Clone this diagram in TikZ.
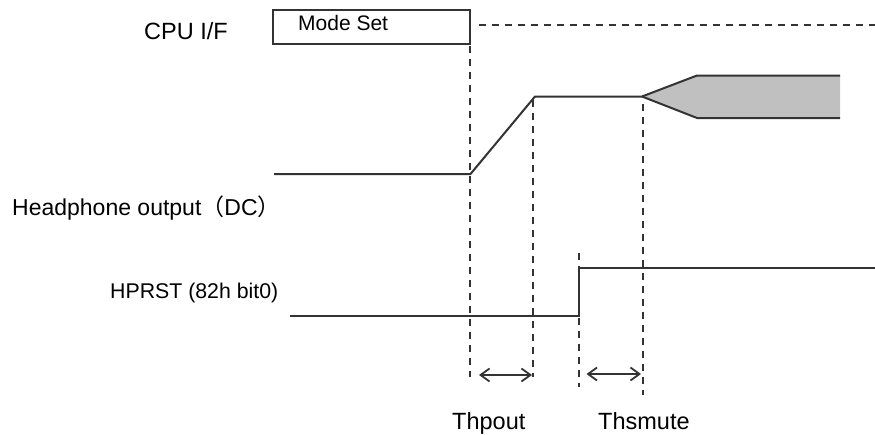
\documentclass[tikz,border=0pt]{standalone}
\usepackage{fontspec}
\setmainfont{Liberation Sans}
\newfontfamily\cjk{Noto Sans CJK SC}
\usetikzlibrary{arrows.meta}
\definecolor{ink}{HTML}{333333}
\definecolor{fillgray}{HTML}{C0C0C0}
\tikzset{
  wave/.style={draw=ink, line width=2pt, line join=miter},
  guide/.style={draw=ink, line width=1.8pt, dash pattern=on 7pt off 6pt},
  dim/.style={draw=ink, line width=1.8pt, {Straight Barb[length=9pt,width=13pt]}-{Straight Barb[length=9pt,width=13pt]}},
  lbl/.style={anchor=base west, inner sep=0pt, text=black},
  boxst/.style={draw=ink, line width=2pt, anchor=north west, minimum width=197pt, minimum height=34pt, inner sep=0pt}
}
\begin{document}
\begin{tikzpicture}[x=1pt, y=-1pt]
\useasboundingbox (0,0) rectangle (875,434);
% labels
\node[lbl, font=\fontsize{23.5}{27}\selectfont] (cpu) at (144,39) {CPU I/F};
\node[lbl, font=\fontsize{23}{27}\selectfont] (hp) at (12,215.5) {Headphone output{\cjk （}DC{\cjk ）}};
\node[lbl, font=\fontsize{21.3}{25}\selectfont] (hprst) at (110,298) {HPRST (82h bit0)};
\node[lbl, font=\fontsize{23.5}{27}\selectfont] (tp) at (452,429) {Thpout};
\node[lbl, font=\fontsize{23.5}{27}\selectfont] (ts) at (598,429) {Thsmute};
% mode set box
\node[boxst] (box) at (272,9) {};
\node[lbl, font=\fontsize{21}{25}\selectfont] (ms) at (298,30) {Mode Set};
\coordinate (cpuend) at (875,25);
\draw[guide] (box.east |- 0,25) ++(8,0) coordinate (cpustart) -- (cpuend);
% headphone waveform
\coordinate (h0) at (274,174);
\coordinate (h1) at (470.5,174);
\coordinate (h2) at (535,96.5);
\coordinate (h3) at (642,96.5);
\coordinate (g1) at (697,75.5);
\coordinate (g2) at (840,75.5);
\coordinate (g3) at (840,118);
\coordinate (g4) at (697,118);
\fill[fillgray] (h3) -- (g1) -- (g2) -- (g3) -- (g4) -- cycle;
\draw[wave] (h0) -- (h1) -- (h2) -- (h3) -- (g1) -- (g2);
\draw[wave] (h3) -- (g4) -- (g3);
% HPRST waveform
\coordinate (r0) at (290,316);
\coordinate (r1) at (579,316);
\coordinate (r2) at (579,267.5);
\coordinate (r3) at (875,267.5);
% guides
\coordinate (v1t) at (470,46);   \coordinate (v1b) at (470,377);
\coordinate (v2t) at (533,100);  \coordinate (v2b) at (533,377);
\coordinate (v3t) at (643,104);  \coordinate (v3b) at (643,395);
\coordinate (v4t) at (579,253);  \coordinate (v4b) at (579,387);
\draw[guide] (v1t) -- (v1b);
\draw[guide] (v2t) -- (v2b);
\draw[guide] (v3t) -- (v3b);
\draw[guide] (v4t) -- (v4b);
\draw[wave] (r0) -- (r1) -- (r2) -- (r3);
% dimension arrows
\coordinate (a1) at (479,375);  \coordinate (a2) at (532,375);
\coordinate (b1) at (586.5,374); \coordinate (b2) at (641,374);
\draw[dim] (a1) -- (a2);
\draw[dim] (b1) -- (b2);
\end{tikzpicture}
\end{document}
